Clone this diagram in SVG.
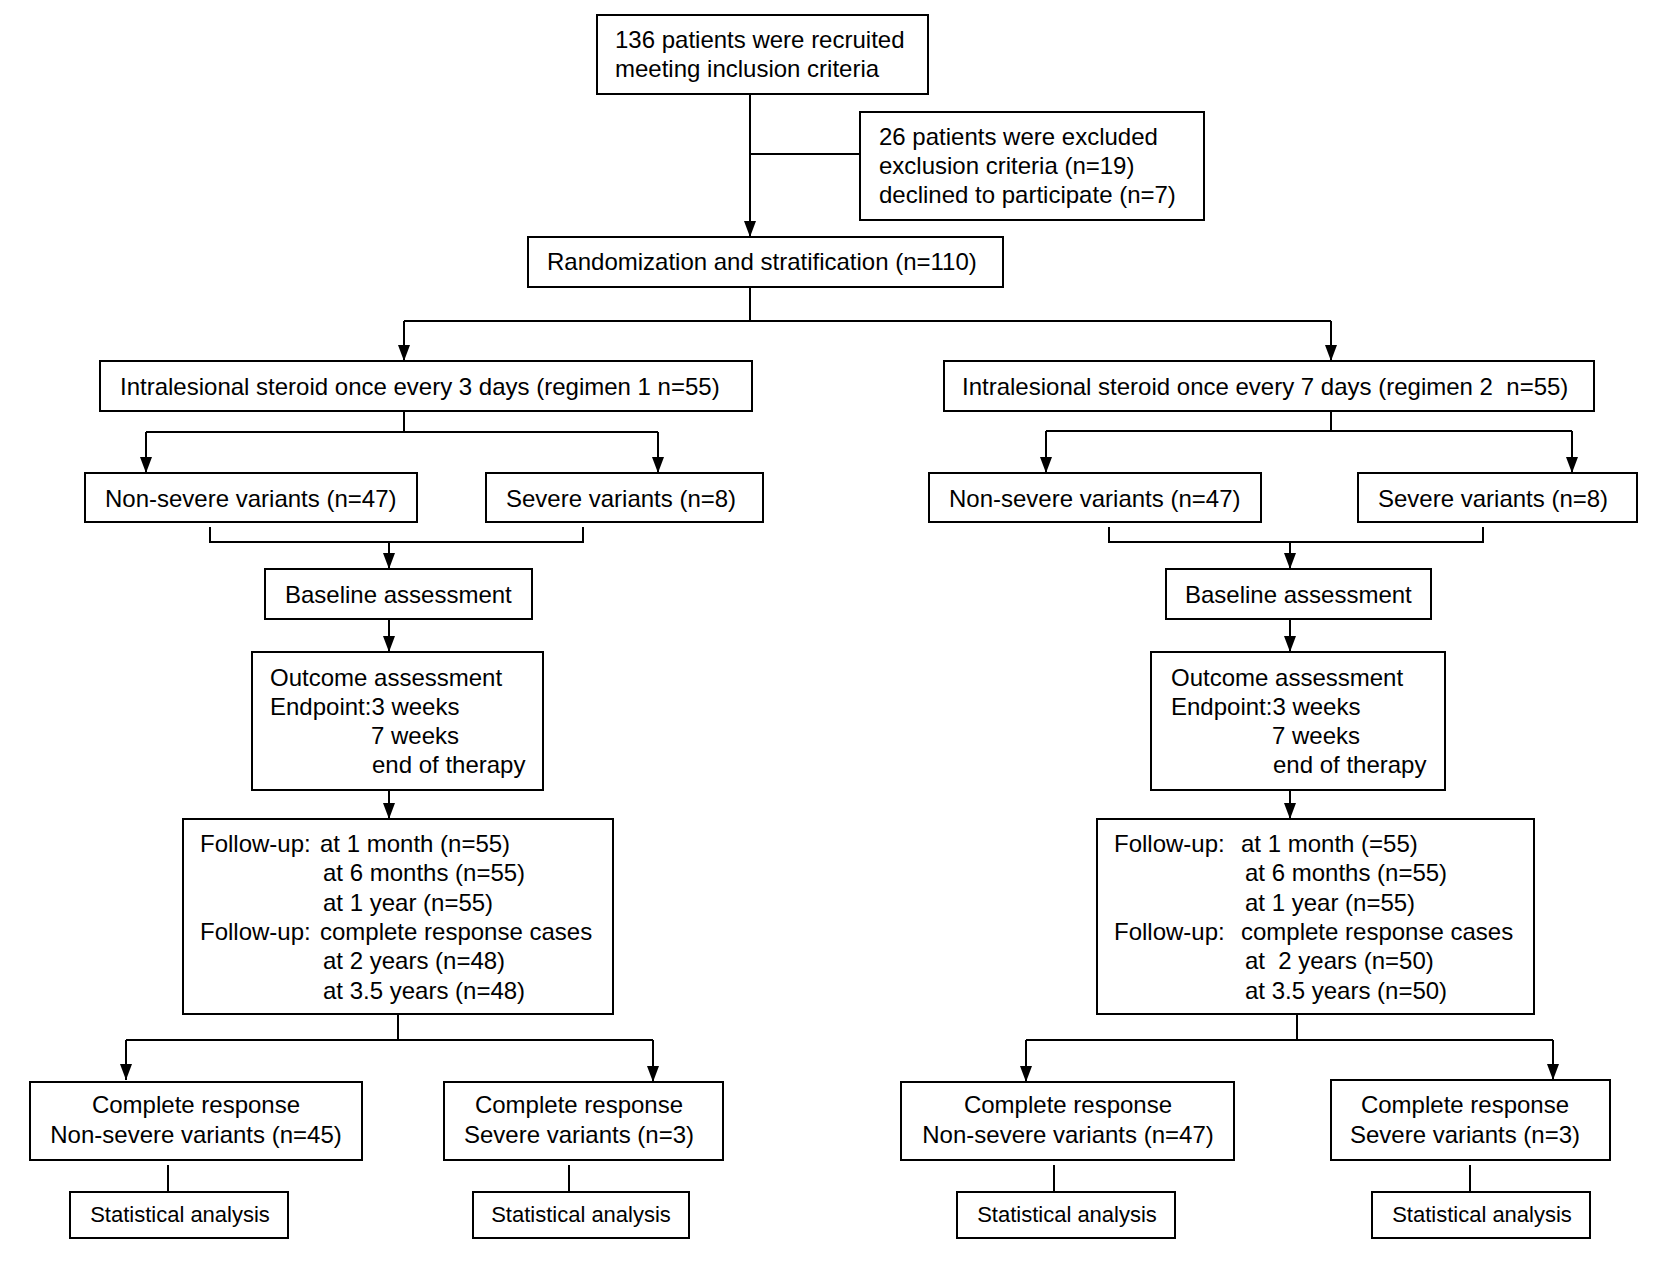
<svg xmlns="http://www.w3.org/2000/svg" width="1654" height="1285" viewBox="0 0 1654 1285">
<style>
.box{fill:#fff;stroke:#000;stroke-width:2}
.t{font-family:"Liberation Sans",Arial,sans-serif;font-size:24px;fill:#000;white-space:pre}
.s{font-family:"Liberation Sans",Arial,sans-serif;font-size:22px;fill:#000}
.c{text-anchor:middle}
.ln{fill:none;stroke:#000;stroke-width:2}
</style>
<defs>
<marker id="ah" viewBox="0 0 16 12" refX="16" refY="6" markerWidth="16" markerHeight="12" markerUnits="userSpaceOnUse" orient="auto">
<path d="M0,0 L16,6 L0,12 z" fill="#000"/>
</marker>
</defs>
<rect width="1654" height="1285" fill="#fff"/>
<g id="connectors">
<path class="ln" d="M750,94 V237" marker-end="url(#ah)"/>
<path class="ln" d="M750,154 H860"/>
<path class="ln" d="M750,287 V321 M404,321 H1331"/>
<path class="ln" d="M404,321 V361" marker-end="url(#ah)"/>
<path class="ln" d="M1331,321 V361" marker-end="url(#ah)"/>
<path class="ln" d="M404,411 V432 M146,432 H658"/>
<path class="ln" d="M146,432 V473" marker-end="url(#ah)"/>
<path class="ln" d="M658,432 V473" marker-end="url(#ah)"/>
<path class="ln" d="M1331,411 V431 M1046,431 H1572"/>
<path class="ln" d="M1046,431 V473" marker-end="url(#ah)"/>
<path class="ln" d="M1572,431 V473" marker-end="url(#ah)"/>
<path class="ln" d="M210,527 V542 H583 V527"/>
<path class="ln" d="M389,542 V569" marker-end="url(#ah)"/>
<path class="ln" d="M1109,527 V542 H1483 V527"/>
<path class="ln" d="M1290,542 V569" marker-end="url(#ah)"/>
<path class="ln" d="M389,619 V652" marker-end="url(#ah)"/>
<path class="ln" d="M389,790 V819" marker-end="url(#ah)"/>
<path class="ln" d="M1290,619 V652" marker-end="url(#ah)"/>
<path class="ln" d="M1290,790 V819" marker-end="url(#ah)"/>
<path class="ln" d="M398,1014 V1040 M126,1040 H653"/>
<path class="ln" d="M126,1040 V1080" marker-end="url(#ah)"/>
<path class="ln" d="M653,1040 V1082" marker-end="url(#ah)"/>
<path class="ln" d="M1297,1014 V1040 M1026,1040 H1553"/>
<path class="ln" d="M1026,1040 V1082" marker-end="url(#ah)"/>
<path class="ln" d="M1553,1040 V1080" marker-end="url(#ah)"/>
<path class="ln" d="M168,1165 V1192 M569,1165 V1192 M1054,1165 V1192 M1470,1165 V1192"/>
</g>
<g id="recruited">
<rect class="box" x="597" y="15" width="331" height="79"/>
<text class="t" x="615" y="48">136 patients were recruited</text>
<text class="t" x="615" y="77">meeting inclusion criteria</text>
</g>
<g id="excluded">
<rect class="box" x="860" y="112" width="344" height="108"/>
<text class="t" x="879" y="145">26 patients were excluded</text>
<text class="t" x="879" y="174">exclusion criteria (n=19)</text>
<text class="t" x="879" y="203">declined to participate (n=7)</text>
</g>
<g id="randomization">
<rect class="box" x="528" y="237" width="475" height="50"/>
<text class="t" x="547" y="270">Randomization and stratification (n=110)</text>
</g>
<g id="regimen1">
<rect class="box" x="100" y="361" width="652" height="50"/>
<text class="t" x="120" y="395">Intralesional steroid once every 3 days (regimen 1 n=55)</text>
</g>
<g id="regimen2">
<rect class="box" x="944" y="361" width="650" height="50"/>
<text class="t" x="962" y="395">Intralesional steroid once every 7 days (regimen 2  n=55)</text>
</g>
<g id="nonsevere1">
<rect class="box" x="85" y="473" width="332" height="49"/>
<text class="t" x="105" y="507">Non-severe variants (n=47)</text>
</g>
<g id="severe1">
<rect class="box" x="486" y="473" width="277" height="49"/>
<text class="t" x="506" y="507">Severe variants (n=8)</text>
</g>
<g id="nonsevere2">
<rect class="box" x="929" y="473" width="332" height="49"/>
<text class="t" x="949" y="507">Non-severe variants (n=47)</text>
</g>
<g id="severe2">
<rect class="box" x="1358" y="473" width="279" height="49"/>
<text class="t" x="1378" y="507">Severe variants (n=8)</text>
</g>
<g id="baseline1">
<rect class="box" x="265" y="569" width="267" height="50"/>
<text class="t" x="285" y="603">Baseline assessment</text>
</g>
<g id="baseline2">
<rect class="box" x="1166" y="569" width="265" height="50"/>
<text class="t" x="1185" y="603">Baseline assessment</text>
</g>
<g id="outcome1">
<rect class="box" x="252" y="652" width="291" height="138"/>
<text class="t" x="270" y="686">Outcome assessment</text>
<text class="t" x="270" y="715">Endpoint:3 weeks</text>
<text class="t" x="371" y="744">7 weeks</text>
<text class="t" x="372" y="773">end of therapy</text>
</g>
<g id="outcome2">
<rect class="box" x="1151" y="652" width="294" height="138"/>
<text class="t" x="1171" y="686">Outcome assessment</text>
<text class="t" x="1171" y="715">Endpoint:3 weeks</text>
<text class="t" x="1272" y="744">7 weeks</text>
<text class="t" x="1273" y="773">end of therapy</text>
</g>
<g id="followup1">
<rect class="box" x="183" y="819" width="430" height="195"/>
<text class="t" y="852"><tspan x="200">Follow-up:</tspan><tspan x="320">at 1 month (n=55)</tspan></text>
<text class="t" x="323" y="881">at 6 months (n=55)</text>
<text class="t" x="323" y="911">at 1 year (n=55)</text>
<text class="t" y="940"><tspan x="200">Follow-up:</tspan><tspan x="320">complete response cases</tspan></text>
<text class="t" x="323" y="969">at 2 years (n=48)</text>
<text class="t" x="323" y="999">at 3.5 years (n=48)</text>
</g>
<g id="followup2">
<rect class="box" x="1097" y="819" width="437" height="195"/>
<text class="t" y="852"><tspan x="1114">Follow-up:</tspan><tspan x="1241">at 1 month (=55)</tspan></text>
<text class="t" x="1245" y="881">at 6 months (n=55)</text>
<text class="t" x="1245" y="911">at 1 year (n=55)</text>
<text class="t" y="940"><tspan x="1114">Follow-up:</tspan><tspan x="1241">complete response cases</tspan></text>
<text class="t" x="1245" y="969">at  2 years (n=50)</text>
<text class="t" x="1245" y="999">at 3.5 years (n=50)</text>
</g>
<g id="cr1">
<rect class="box" x="30" y="1082" width="332" height="78"/>
<text class="t c" x="196" y="1113">Complete response</text>
<text class="t c" x="196" y="1143">Non-severe variants (n=45)</text>
</g>
<g id="cr2">
<rect class="box" x="444" y="1082" width="279" height="78"/>
<text class="t c" x="579" y="1113">Complete response</text>
<text class="t c" x="579" y="1143">Severe variants (n=3)</text>
</g>
<g id="cr3">
<rect class="box" x="901" y="1082" width="333" height="78"/>
<text class="t c" x="1068" y="1113">Complete response</text>
<text class="t c" x="1068" y="1143">Non-severe variants (n=47)</text>
</g>
<g id="cr4">
<rect class="box" x="1331" y="1080" width="279" height="80"/>
<text class="t c" x="1465" y="1113">Complete response</text>
<text class="t c" x="1465" y="1143">Severe variants (n=3)</text>
</g>
<g id="stat1">
<rect class="box" x="70" y="1192" width="218" height="46"/>
<text class="s c" x="180" y="1222">Statistical analysis</text>
</g>
<g id="stat2">
<rect class="box" x="473" y="1192" width="216" height="46"/>
<text class="s c" x="581" y="1222">Statistical analysis</text>
</g>
<g id="stat3">
<rect class="box" x="957" y="1192" width="218" height="46"/>
<text class="s c" x="1067" y="1222">Statistical analysis</text>
</g>
<g id="stat4">
<rect class="box" x="1372" y="1192" width="218" height="46"/>
<text class="s c" x="1482" y="1222">Statistical analysis</text>
</g>
</svg>
